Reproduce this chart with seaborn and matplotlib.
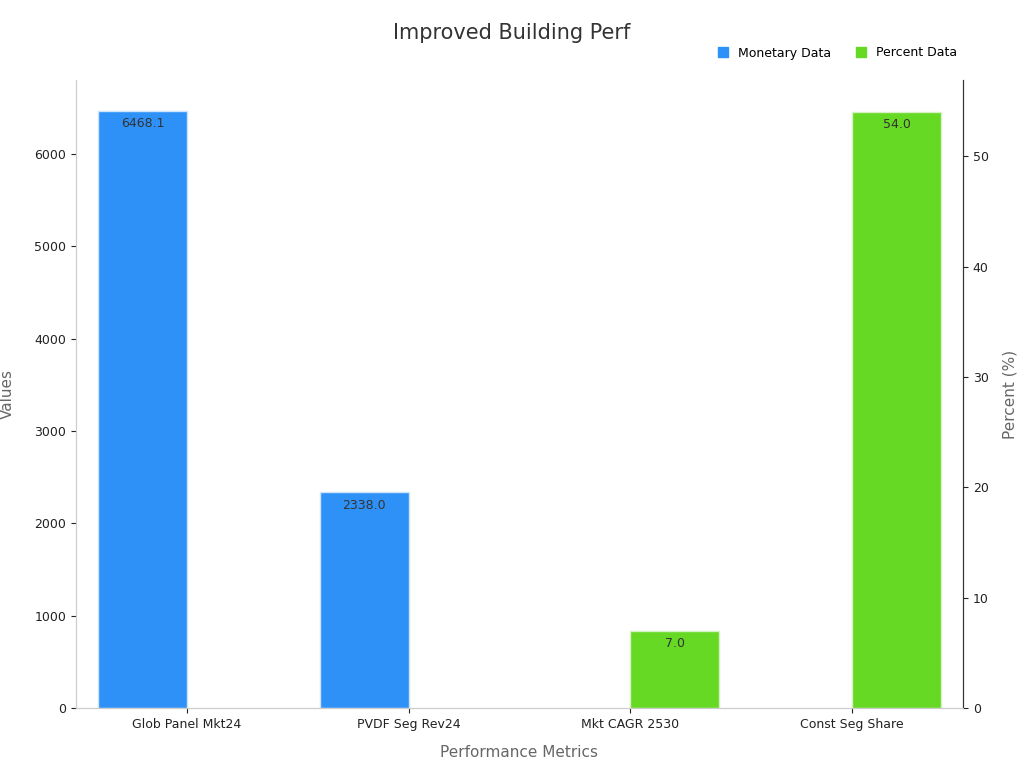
import matplotlib
matplotlib.use("Agg")
import matplotlib.pyplot as plt
import seaborn as sns
import pandas as pd
import numpy as np
from matplotlib.patches import Patch

categories = ["Glob Panel Mkt24", "PVDF Seg Rev24", "Mkt CAGR 2530", "Const Seg Share"]
series_type = ["Monetary Data", "Monetary Data", "Percent Data", "Percent Data"]
values = [6468.1, 2338.0, 7.0, 54.0]
hue_levels = ["Monetary Data", "Percent Data"]
colors = {"Monetary Data": "#2E91F8", "Percent Data": "#66D924"}

df = pd.DataFrame({"cat": categories, "type": series_type, "value": values})
df["mon"] = np.where(df["type"] == "Monetary Data", df["value"], np.nan)
df["pct"] = np.where(df["type"] == "Percent Data", df["value"], np.nan)

fig = plt.figure(figsize=(10.24, 7.68), dpi=100)
ax = fig.add_axes([76/1024, 60/768, (963-76)/1024, (708-80)/768])
ax2 = ax.twinx()

sns.barplot(data=df, x="cat", y="mon", hue="type", hue_order=hue_levels, palette=colors,
            ax=ax, width=0.8, dodge=True, saturation=1, edgecolor="#cfe3fb", linewidth=1, legend=False)
sns.barplot(data=df, x="cat", y="pct", hue="type", hue_order=hue_levels, palette=colors,
            ax=ax2, width=0.8, dodge=True, saturation=1, edgecolor="#d4f2c2", linewidth=1, legend=False)

ax.set_ylim(0, 6801)
ax2.set_ylim(0, 56.9)

for a in (ax, ax2):
    for c in a.containers:
        labs = [f"{v:.1f}" if not np.isnan(v) else "" for v in c.datavalues]
        a.bar_label(c, labels=labs, padding=-14, fontsize=9, color="#333333")

ax.set_xlabel("Performance Metrics", fontsize=11, color="#666666", labelpad=10)
ax.set_ylabel("Values", fontsize=11, color="#666666", labelpad=14)
ax2.set_ylabel("Percent (%)", fontsize=11, color="#666666", labelpad=10)
ax.tick_params(labelsize=9, colors="#222222")
ax2.tick_params(labelsize=9, colors="#222222")
for a in (ax, ax2):
    a.spines["top"].set_visible(False)
    a.spines["left"].set_color("#cccccc")
    a.spines["bottom"].set_color("#cccccc")
    a.spines["right"].set_color("#333333")

fig.suptitle("Improved Building Perf", y=1-33/768, va="center", fontsize=15, color="#333333")
handles = [Patch(color=colors[h], label=h) for h in hue_levels]
fig.legend(handles=handles, loc="center right", bbox_to_anchor=(968/1024, 1-53/768),
           ncol=2, frameon=False, fontsize=9, handlelength=0.8, handleheight=0.8, columnspacing=2)
fig.savefig("out.png", dpi=100)
